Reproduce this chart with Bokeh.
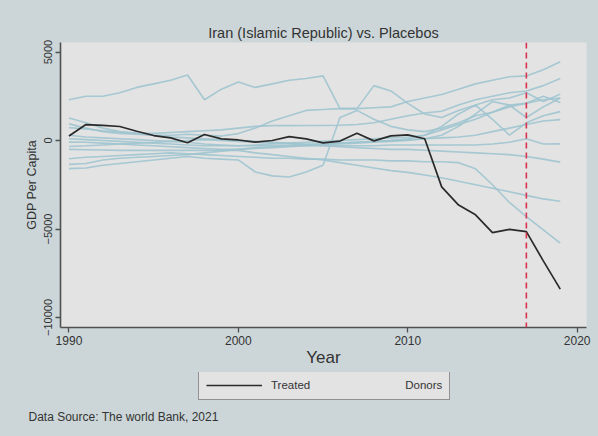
from bokeh.plotting import figure
from bokeh.layouts import column
from bokeh.models import Span, Legend, LegendItem, Range1d, FixedTicker, Label
from bokeh.embed import file_html
from bokeh.resources import INLINE

years = list(range(1990, 2020))

treated = [250, 900, 860, 790, 520, 280, 150, -130, 340, 90,
           30, -90, 0, 220, 90, -130, -30, 410, -20, 260,
           320, 100, -2620, -3650, -4200, -5200, -5020, -5150, -6800, -8400]

donor_a = [2300, 2500, 2500, 2700, 3000, 3200, 3400, 3700, 2300, 2900,
           3300, 3000, 3200, 3400, 3500, 3650, 1800, 1800, 3100, 2800,
           2100, 1500, 1300, 1700, 2000, 2300, 2400, 2700, 2200, 2620]
donor_b = [940, 700, 500, 400, 350, 300, 300, 350, 300, 250,
           390, 700, 1100, 1400, 1700, 1750, 1800, 1800, 1850, 1900,
           2200, 2400, 2600, 2900, 3200, 3400, 3600, 3650, 4000, 4450]
donor_c = [730, 650, 550, 480, 420, 400, 450, 500, 550, 600,
           700, 800, 840, 840, 850, 850, 860, 900, 1000, 1200,
           1400, 1550, 1650, 2000, 2300, 2500, 2700, 2800, 3100, 3500]
donor_d = [-1030, -950, -900, -850, -800, -750, -700, -750, -800, -850,
           -900, -950, -1000, -1000, -1050, -1050, -1100, -1100, -1100, -1150,
           -1150, -1200, -1200, -1250, -1600, -2500, -3500, -4300, -5050, -5800]
donor_e = [-500, -520, -540, -560, -560, -560, -560, -560, -560, -560,
           -560, -700, -800, -900, -1000, -1100, -1250, -1400, -1550, -1700,
           -1800, -1950, -2100, -2300, -2500, -2700, -2900, -3100, -3300, -3430]
donor_f = [-1590, -1550, -1400, -1300, -1200, -1100, -1000, -900, -1000, -1050,
           -1100, -1780, -2000, -2060, -1780, -1400, 1300, 1700, 1200, 800,
           600, 500, 700, 1000, 1400, 1600, 1900, 2100, 2300, 2400]
donor_g = [-1350, -1300, -1100, -1000, -950, -900, -850, -800, -700, -600,
           -500, -400, -350, -300, -250, -200, -150, -100, -50, 0,
           100, 300, 600, 900, 1200, 1600, 2000, 2100, 2500, 2150]
donor_h = [300, 200, 150, 100, 50, 0, -50, -100, -200, -250,
           -300, -250, -200, -150, -100, -50, 0, 50, 100, 150,
           200, 300, 800, 1500, 2000, 1200, 300, 1000, 1400, 1630]
donor_i = [1270, 1000, 700, 500, 400, 300, 200, 150, 100, 50,
           0, -50, -100, -150, -200, -200, -150, -100, -50, 0,
           50, 100, 150, 200, 300, 500, 700, 900, 1100, 1180]
donor_j = [100, 50, 0, -50, -100, -150, -200, -250, -300, -300,
           -300, -300, -300, -300, -300, -300, -300, -300, -300, -250,
           -250, -250, -250, -250, -250, -200, -100, 100, -200, -190]
donor_k = [-90, -100, -150, -200, -250, -300, -350, -400, -450, -500,
           -500, -450, -400, -350, -300, -250, -200, -150, -100, -50,
           0, 100, 300, 800, 1500, 2200, 2000, 1300, 1900, 2400]
donor_l = [-340, -300, -250, -200, -150, -100, -50, 0, 50, 0,
           -50, -100, -150, -200, -250, -300, -350, -400, -450, -500,
           -500, -550, -600, -650, -700, -750, -800, -900, -1050, -1220]

donors = [donor_a, donor_b, donor_c, donor_d, donor_e, donor_f,
          donor_g, donor_h, donor_i, donor_j, donor_k, donor_l]

treatment_year = 2017
y_ticks = [-10000, -5000, 0, 5000]
x_ticks = [1990, 2000, 2010, 2020]

OUTER_BG = "#ccd6d8"
PLOT_BG = "#e3e3e3"
AXIS_C = "#505050"
TEXT_C = "#333333"
DONOR_C = "#9fc4cf"
TREATED_C = "#2a2a2a"
FONT = "Liberation Sans"

# ---- main chart ----
chart = figure(width=598, height=372, output_backend="svg", toolbar_location=None,
               x_range=Range1d(1989.5, 2020.55), y_range=Range1d(-10565, 5537),
               min_border_left=60, min_border_right=12, min_border_top=42,
               min_border_bottom=45)
chart.frame_align = False
chart.background_fill_color = PLOT_BG
chart.border_fill_color = OUTER_BG
chart.outline_line_color = None
chart.grid.visible = False

chart.title.text = "Iran (Islamic Republic) vs. Placebos"
chart.title.align = "center"
chart.title.text_font = FONT
chart.title.text_font_size = "14.5px"
chart.title.text_font_style = "normal"
chart.title.text_color = TEXT_C
chart.title.standoff = 3

# donor (placebo) paths, then the treated unit on top
for d in donors:
    chart.line(years, d, line_color=DONOR_C, line_width=1.6, line_alpha=0.9)
chart.line(years, treated, line_color=TREATED_C, line_width=1.7)

chart.add_layout(Span(location=treatment_year, dimension="height",
                      line_color="#d8344d", line_dash="6 4", line_width=1.6))

chart.xaxis.ticker = FixedTicker(ticks=x_ticks)
chart.yaxis.ticker = FixedTicker(ticks=y_ticks)
for ax in (chart.xaxis[0], chart.yaxis[0]):
    ax.axis_line_color = AXIS_C
    ax.axis_line_width = 1.6
    ax.major_tick_line_color = AXIS_C
    ax.major_tick_line_width = 1.3
    ax.major_tick_out = 5
    ax.major_tick_in = 0
    ax.minor_tick_line_color = None
    ax.major_label_text_font = FONT
    ax.major_label_text_color = TEXT_C
    ax.axis_label_text_font = FONT
    ax.axis_label_text_font_style = "normal"
    ax.axis_label_text_color = TEXT_C

chart.yaxis.major_label_orientation = "vertical"
chart.yaxis.major_label_text_font_size = "11px"
chart.yaxis.major_label_standoff = 3
chart.yaxis.axis_label = "GDP Per Capita"
chart.yaxis.axis_label_text_font_size = "12.5px"
chart.yaxis.axis_label_standoff = 3

chart.xaxis.major_label_text_font_size = "12px"
chart.xaxis.major_label_standoff = 3
chart.xaxis.axis_label = "Year"
chart.xaxis.axis_label_text_font_size = "17px"
chart.xaxis.axis_label_standoff = 0

# ---- strip below: legend and source note ----
foot = figure(width=598, height=64, output_backend="svg", toolbar_location=None,
              x_axis_type=None, y_axis_type=None,
              x_range=Range1d(0, 598), y_range=Range1d(0, 64),
              min_border=0)
foot.frame_align = False
foot.background_fill_color = OUTER_BG
foot.border_fill_color = OUTER_BG
foot.outline_line_color = None
foot.grid.visible = False

# key lines for the legend, kept outside the visible strip
treated_key = foot.line([-20, -10], [-20, -20], line_color=TREATED_C, line_width=1.7)
donor_key = foot.line([-20, -10], [-20, -20], line_color=PLOT_BG, line_width=1.6)

legend = Legend(items=[LegendItem(label="Treated", renderers=[treated_key]),
                       LegendItem(label="Donors", renderers=[donor_key])],
                orientation="horizontal", location=(198, 36),
                background_fill_color=PLOT_BG, background_fill_alpha=1,
                border_line_color="#404040", border_line_width=1.6,
                label_text_font=FONT, label_text_font_size="11.5px",
                label_text_color=TEXT_C, glyph_width=56, glyph_height=14,
                label_standoff=9, spacing=30, padding=7, margin=0)
foot.add_layout(legend, "center")

foot.add_layout(Label(x=28, y=20, x_units="screen", y_units="screen",
                      text="Data Source: The world Bank, 2021",
                      text_align="left", text_baseline="middle",
                      text_font=FONT, text_font_size="12px", text_color=TEXT_C))

p = column(chart, foot, spacing=0)
p.background = OUTER_BG

open("out.html", "w").write(file_html(p, INLINE))
